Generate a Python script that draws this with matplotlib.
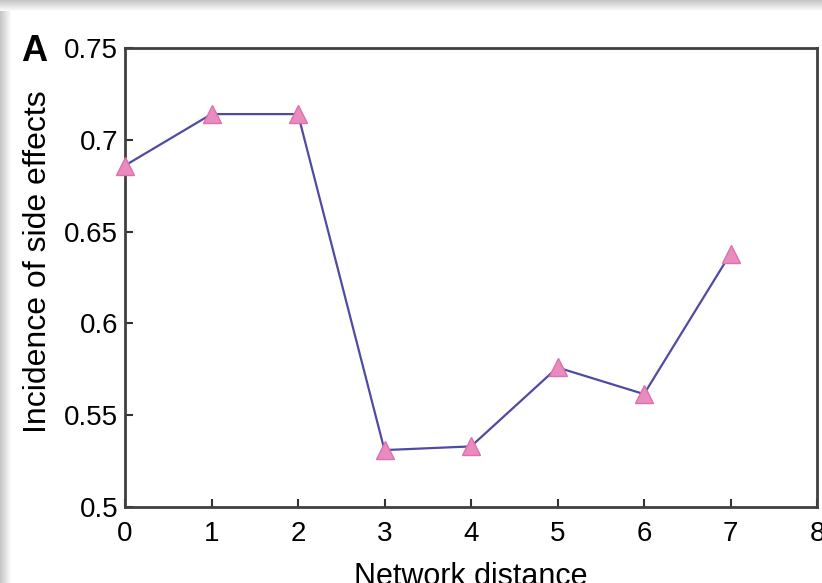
import numpy as np
import matplotlib
matplotlib.use("Agg")
import matplotlib.pyplot as plt
from matplotlib.patches import Rectangle

plt.rcParams["font.family"] = ["Liberation Sans", "DejaVu Sans"]

# data
distance = [0, 1, 2, 3, 4, 5, 6, 7]
incidence = [0.686, 0.714, 0.714, 0.531, 0.533, 0.576, 0.5615, 0.638]
xticks = [0, 1, 2, 3, 4, 5, 6, 7, 8]
yticks = [0.5, 0.55, 0.6, 0.65, 0.7, 0.75]
ytick_labels = ["0.5", "0.55", "0.6", "0.65", "0.7", "0.75"]

W, H = 822, 583
fig = plt.figure(figsize=(W / 100, H / 100), dpi=100)
fig.patch.set_facecolor("white")

# drop-shadow frame along the top and left edge
bg = fig.add_axes([0, 0, 1, 1], zorder=-5)
bg.set_xlim(0, W)
bg.set_ylim(H, 0)
bg.axis("off")
for i in range(11):
    g = 0.78 + 0.02 * i
    bg.add_patch(Rectangle((0, i), W, 1, color=(g, g, g), lw=0))
    bg.add_patch(Rectangle((i, i), 1, H, color=(g, g, g), lw=0))

ax = fig.add_axes([125 / W, 1 - 507 / H, 692 / W, 459 / H])
ax.plot(distance, incidence, color="#4f4aa5", lw=1.6, zorder=2)
ax.plot(distance, incidence, ls="none", marker="^", ms=12.5,
        mfc="#e88cbf", mec="#e070a8", mew=1, zorder=3, clip_on=False)

ax.set_xlim(0, 8)
ax.set_ylim(0.5, 0.75)
ax.set_xticks(xticks)
ax.set_yticks(yticks)
ax.set_yticklabels(ytick_labels)
ax.tick_params(direction="in", length=6, width=1.5, color="#333333",
               labelsize=20, top=False, right=False)
ax.tick_params(axis="x", pad=10)
ax.tick_params(axis="y", pad=5)
for sp in ax.spines.values():
    sp.set_color("#404040")
    sp.set_linewidth(2)

ax.set_xlabel("Network distance", fontsize=22)
ax.xaxis.set_label_coords(0.5, -0.12)
ax.set_ylabel("Incidence of side effects", fontsize=23)
ax.yaxis.set_label_coords(-0.104, 0.534)

fig.text(21 / W, 1 - 61 / H, "A", fontsize=26, fontweight="bold",
         ha="left", va="baseline")

fig.savefig("out.png", dpi=100)
